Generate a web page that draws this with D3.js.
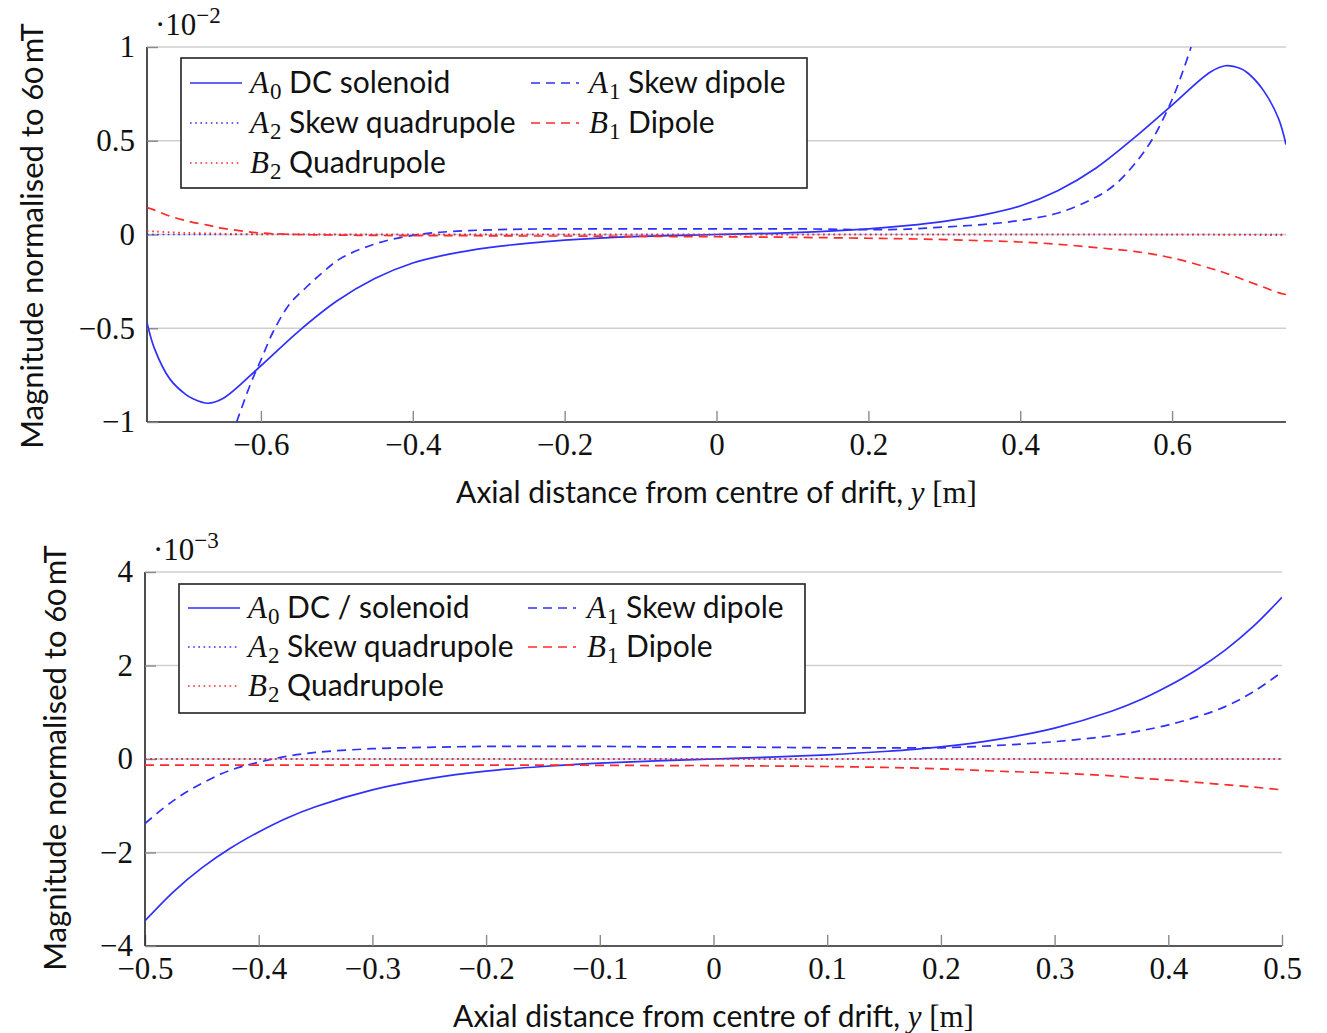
<!DOCTYPE html>
<html>
<head>
<meta charset="utf-8">
<script src="https://cdn.jsdelivr.net/npm/d3@7"></script>
<style>
  body { margin: 0; background: #fff; }
  svg { display: block; }
  .tick text { font-family: "Liberation Serif", "Times New Roman", serif; font-size: 31px; fill: #111; }
  .sans { font-family: Lato, "Open Sans", sans-serif; fill: #111; font-variant-numeric: oldstyle-nums; font-feature-settings: "onum"; }
  .math { font-family: "Liberation Serif", "Times New Roman", serif; fill: #111; }
  .it { font-style: italic; }
</style>
</head>
<body>
<svg id="chart" width="1327" height="1033"></svg>
<script>
// ---- Multipole components along the drift, upper plot (units of 1e-2) ----
const topX  = [-0.75, -0.74, -0.72, -0.70, -0.69, -0.67, -0.65, -0.60, -0.55, -0.50, -0.45, -0.40, -0.35, -0.30, -0.25,
               -0.20, -0.10, 0, 0.10, 0.20, 0.25, 0.30, 0.35, 0.40, 0.45, 0.50, 0.55, 0.60, 0.65, 0.67,
               0.69, 0.70, 0.72, 0.74, 0.75];
const topA0 = [-0.47, -0.61, -0.77, -0.85, -0.875, -0.90, -0.875, -0.70, -0.515, -0.355, -0.235, -0.152, -0.103, -0.07, -0.047,
               -0.03, -0.01, 0, 0.01, 0.03, 0.047, 0.07, 0.103, 0.152, 0.235, 0.355, 0.515, 0.69, 0.865, 0.90,
               0.885, 0.86, 0.77, 0.62, 0.48];
const topB1 = [0.143, 0.13, 0.098, 0.075, 0.065, 0.05, 0.033, 0.008, 0.0, -0.003, -0.005, -0.006, -0.006, -0.007, -0.008,
               -0.008, -0.01, -0.012, -0.015, -0.02, -0.023, -0.027, -0.033, -0.04, -0.052, -0.07, -0.09, -0.125, -0.18, -0.205,
               -0.235, -0.25, -0.28, -0.31, -0.32];
const topA2 = [0, 0, 0, 0, 0, 0, 0, 0, 0, 0, 0, 0, 0, 0, 0,
               0, 0, 0, 0, 0, 0, 0, 0, 0, 0, 0, 0, 0, 0, 0,
               0, 0, 0, 0, 0];
const topB2 = [0.018, 0.016, 0.012, 0.009, 0.008, 0.006, 0.004, 0.002, 0.001, 0, 0, 0, 0, 0, 0,
               0, 0, 0, 0, 0, 0, 0, 0, 0, 0, 0, 0, -0.001, -0.001, -0.002,
               -0.002, -0.002, -0.003, -0.004, -0.004];
// skew dipole leaves the plotted range near the ends, so it has its own abscissae
const topA1X = [-0.632, -0.613, -0.60, -0.584, -0.562, -0.54, -0.518, -0.496, -0.452, -0.408, -0.364, -0.276, -0.10,
                0.10, 0.24, 0.30, 0.35, 0.40, 0.45, 0.50, 0.525, 0.55, 0.575, 0.60, 0.615, 0.625];
const topA1  = [-1.0, -0.79, -0.67, -0.52, -0.37, -0.28, -0.20, -0.13, -0.053, -0.01, 0.012, 0.027, 0.03,
                0.03, 0.027, 0.04, 0.053, 0.075, 0.115, 0.20, 0.267, 0.373, 0.515, 0.72, 0.88, 1.0];

// ---- Lower plot (units of 1e-3) ----
const botX  = [-0.5, -0.475, -0.45, -0.425, -0.4, -0.375, -0.35, -0.3, -0.25, -0.2, -0.15, -0.1, -0.05, 0,
               0.05, 0.1, 0.15, 0.2, 0.25, 0.3, 0.35, 0.375, 0.4, 0.425, 0.45, 0.475, 0.5];
const botA0 = [-3.46, -2.84, -2.33, -1.91, -1.56, -1.26, -1.02, -0.66, -0.42, -0.26, -0.16, -0.09, -0.04, 0,
               0.04, 0.09, 0.16, 0.26, 0.42, 0.66, 1.02, 1.26, 1.56, 1.91, 2.33, 2.84, 3.46];
const botA1 = [-1.38, -0.89, -0.52, -0.24, -0.07, 0.06, 0.14, 0.22, 0.25, 0.27, 0.27, 0.27, 0.26, 0.26,
               0.25, 0.24, 0.24, 0.24, 0.29, 0.37, 0.50, 0.60, 0.73, 0.90, 1.12, 1.44, 1.86];
const botB1 = [-0.13, -0.13, -0.13, -0.13, -0.13, -0.13, -0.13, -0.13, -0.13, -0.13, -0.13, -0.135, -0.14, -0.14,
               -0.15, -0.16, -0.18, -0.21, -0.26, -0.30, -0.36, -0.41, -0.45, -0.50, -0.55, -0.60, -0.66];
const botA2 = [0, 0, 0, 0, 0, 0, 0, 0, 0, 0, 0, 0, 0, 0, 0, 0, 0, 0, 0, 0, 0, 0, 0, 0, 0, 0, 0];
const botB2 = [0, 0, 0, 0, 0, 0, 0, 0, 0, 0, 0, 0, 0, 0, 0, 0, 0, 0, 0, 0, 0, 0, 0, 0, 0, 0, 0];

// ---- Tick values ----
const topXTicks = [-0.6, -0.4, -0.2, 0, 0.2, 0.4, 0.6];
const topYTicks = [-1, -0.5, 0, 0.5, 1];
const botXTicks = [-0.5, -0.4, -0.3, -0.2, -0.1, 0, 0.1, 0.2, 0.3, 0.4, 0.5];
const botYTicks = [-4, -2, 0, 2, 4];

// ---- Legend entries: [symbol, subscript, text] ----
const topLegend = [["A", "0", "DC solenoid"], ["A", "1", "Skew dipole"], ["A", "2", "Skew quadrupole"],
                   ["B", "1", "Dipole"], ["B", "2", "Quadrupole"]];
const botLegend = [["A", "0", "DC / solenoid"], ["A", "1", "Skew dipole"], ["A", "2", "Skew quadrupole"],
                   ["B", "1", "Dipole"], ["B", "2", "Quadrupole"]];

const BLUE = "#2f2fff", RED = "#ff2a2a";
const styles = {
  A0: { color: BLUE, dash: null },
  A1: { color: BLUE, dash: "9,6" },
  A2: { color: BLUE, dash: "1.6,3.6" },
  B1: { color: RED,  dash: "9,6" },
  B2: { color: RED,  dash: "1.6,3.6" }
};
const legendKeys = ["A0", "A1", "A2", "B1", "B2"];

const svg = d3.select("#chart");
const fmt = d3.format("");

function drawPanel(p) {
  const x = d3.scaleLinear().domain(p.xDomain).range([p.left, p.right]);
  const y = d3.scaleLinear().domain(p.yDomain).range([p.bottom, p.top]);
  const g = svg.append("g");
  const clipId = "clip" + p.id;
  g.append("clipPath").attr("id", clipId).append("rect")
    .attr("x", p.left).attr("y", p.top - 2).attr("width", p.right - p.left).attr("height", p.bottom - p.top + 4);

  // horizontal grid
  g.append("g").selectAll("line").data(p.yTicks.filter(v => v !== p.yDomain[0])).join("line")
    .attr("x1", p.left).attr("x2", p.right)
    .attr("y1", d => y(d)).attr("y2", d => y(d))
    .attr("stroke", "#cfcfcf").attr("stroke-width", 1.6);

  // axes
  const xAxis = g.append("g").attr("transform", `translate(0,${p.bottom})`)
    .call(d3.axisBottom(x).tickValues(p.xTicks).tickFormat(fmt).tickSizeInner(-11).tickSizeOuter(0).tickPadding(11));
  const yAxis = g.append("g").attr("transform", `translate(${p.left},0)`)
    .call(d3.axisLeft(y).tickValues(p.yTicks).tickFormat(fmt).tickSizeInner(-11).tickSizeOuter(0).tickPadding(12));
  [xAxis, yAxis].forEach(a => {
    a.select(".domain").attr("stroke", "#222").attr("stroke-width", 1.6);
    a.selectAll(".tick line").attr("stroke", "#8a8a8a").attr("stroke-width", 1.4);
    a.selectAll(".tick text").attr("font-family", null).attr("font-size", null);
  });
  // axis lines only on the left and bottom edges
  yAxis.select(".domain").attr("d", `M0,${p.top}V${p.bottom}`);
  xAxis.select(".domain").attr("d", `M${p.left},0H${p.right}`);

  // series
  const line = d3.line().x(d => x(d[0])).y(d => y(d[1])).curve(d3.curveCatmullRom.alpha(0.5));
  const plot = g.append("g").attr("clip-path", `url(#${clipId})`);
  p.series.forEach(s => {
    const st = styles[s.key];
    plot.append("path").datum(d3.zip(s.xs, s.ys))
      .attr("d", line).attr("fill", "none")
      .attr("stroke", st.color).attr("stroke-width", 1.7)
      .attr("stroke-dasharray", st.dash);
  });

  // exponent marker above the y axis
  const ex = g.append("text").attr("class", "math").attr("x", p.left + 8).attr("y", p.top - 12).attr("font-size", 31);
  ex.append("tspan").text("\u00b710");
  ex.append("tspan").attr("dy", -12).attr("font-size", 23).text(p.exp);

  // axis titles
  const xl = g.append("text").attr("x", (p.left + p.right) / 2).attr("y", p.xLabelY)
    .attr("text-anchor", "middle").attr("font-size", 30);
  xl.append("tspan").attr("class", "sans").text("Axial distance from centre of drift, ");
  xl.append("tspan").attr("class", "math it").attr("font-size", 31).text("y");
  xl.append("tspan").attr("class", "math").attr("font-size", 31).text(" [m]");

  g.append("text").attr("class", "sans").attr("font-size", 31)
    .attr("text-anchor", "middle")
    .attr("transform", `translate(${p.yLabelX},${p.yLabelMid}) rotate(-90)`)
    .text("Magnitude normalised to 60\u2009mT");

  // legend
  const L = p.legend;
  const lg = g.append("g");
  lg.append("rect").attr("x", L.x).attr("y", L.y).attr("width", L.w).attr("height", L.h)
    .attr("fill", "#fff").attr("stroke", "#222").attr("stroke-width", 1.6);
  const slots = [[0, 0], [1, 0], [0, 1], [1, 1], [0, 2]];
  p.legendItems.forEach((item, i) => {
    const [c, r] = slots[i];
    const st = styles[legendKeys[i]];
    const cy = L.y + L.rowTop + r * L.rowGap;
    const sx = L.x + L.sampleX[c];
    lg.append("line").attr("x1", sx).attr("x2", sx + L.sampleW[c]).attr("y1", cy).attr("y2", cy)
      .attr("stroke", st.color).attr("stroke-width", 1.7).attr("stroke-dasharray", st.dash);
    const t = lg.append("text").attr("x", L.x + L.textX[c]).attr("y", cy + 10);
    t.append("tspan").attr("class", "math it").attr("font-size", 31).text(item[0]);
    t.append("tspan").attr("class", "math").attr("font-size", 23).attr("dx", 1).attr("dy", 6).text(item[1]);
    t.append("tspan").attr("class", "sans").attr("font-size", 30).attr("dy", -6).text("\u00a0" + item[2]);
  });
}

drawPanel({
  id: "Top", left: 147, right: 1286, top: 47, bottom: 422,
  xDomain: [-0.75, 0.75], yDomain: [-1, 1], xTicks: topXTicks, yTicks: topYTicks, exp: "\u22122",
  xLabelY: 503, yLabelX: 43, yLabelMid: 236,
  legend: { x: 181, y: 58, w: 626, h: 130, rowTop: 25, rowGap: 40, sampleX: [9, 350], sampleW: [52, 48], textX: [69, 408] },
  legendItems: topLegend,
  series: [
    { key: "A0", xs: topX, ys: topA0 },
    { key: "A1", xs: topA1X, ys: topA1 },
    { key: "A2", xs: topX, ys: topA2 },
    { key: "B1", xs: topX, ys: topB1 },
    { key: "B2", xs: topX, ys: topB2 }
  ]
});

drawPanel({
  id: "Bot", left: 145, right: 1282, top: 572, bottom: 946,
  xDomain: [-0.5, 0.5], yDomain: [-4, 4], xTicks: botXTicks, yTicks: botYTicks, exp: "\u22123",
  xLabelY: 1027, yLabelX: 66, yLabelMid: 758,
  legend: { x: 179, y: 584, w: 626, h: 129, rowTop: 24, rowGap: 39, sampleX: [9, 349], sampleW: [52, 48], textX: [69, 408] },
  legendItems: botLegend,
  series: [
    { key: "A0", xs: botX, ys: botA0 },
    { key: "A1", xs: botX, ys: botA1 },
    { key: "A2", xs: botX, ys: botA2 },
    { key: "B1", xs: botX, ys: botB1 },
    { key: "B2", xs: botX, ys: botB2 }
  ]
});
</script>
</body>
</html>
